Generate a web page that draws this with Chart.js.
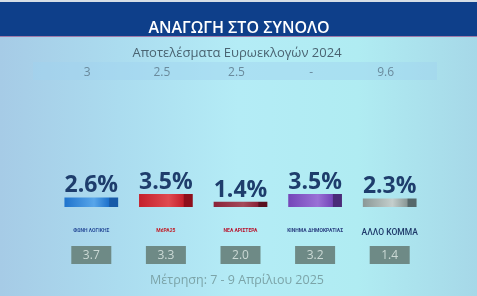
<!DOCTYPE html>
<html>
<head>
<meta charset="utf-8">
<script src="https://cdn.jsdelivr.net/npm/chart.js@4/dist/chart.umd.min.js"></script>
<style>
  html, body { margin: 0; padding: 0; background: #b2e6f2; }
  #wrap { width: 477px; height: 296px; }
</style>
</head>
<body>
<div id="wrap"><canvas id="poll"></canvas></div>
<script>
// Δεδομένα δημοσκόπησης
const parties = ["ΦΩΝΗ ΛΟΓΙΚΗΣ", "ΜέΡΑ25", "ΝΕΑ ΑΡΙΣΤΕΡΑ", "ΚΙΝΗΜΑ ΔΗΜΟΚΡΑΤΙΑΣ", "ΑΛΛΟ ΚΟΜΜΑ"];
const current = [2.6, 3.5, 1.4, 3.5, 2.3];
const previous = ["3.7", "3.3", "2.0", "3.2", "1.4"];
const euro2024 = ["3", "2.5", "2.5", "-", "9.6"];
const titleText = "ΑΝΑΓΩΓΗ ΣΤΟ ΣΥΝΟΛΟ";
const subtitleText = "Αποτελέσματα Ευρωεκλογών 2024";
const footerText = "Μέτρηση: 7 - 9 Απρίλιου 2025";

const barColors = [
  ["#58a6ea", "#1f73cc", "#165aa8"],
  ["#e04a50", "#c4202c", "#8e0f1c"],
  ["#a44a5a", "#8a2238", "#5a1020"],
  ["#9a70d6", "#7446b8", "#4a2a78"],
  ["#c4cecc", "#8a9896", "#56686a"],
];
const logoColors = ["#2a4f9a", "#c0202a", "#b8142e", "#2a3f80", "#1f3a6a"];

function barFill(ctx) {
  const chart = ctx.chart;
  const i = ctx.dataIndex;
  const c = barColors[i];
  if (!chart.chartArea || !chart.scales.x) return c[1];
  const x = chart.scales.x.getPixelForValue(i);
  const half = 27;
  const g = chart.ctx.createLinearGradient(x - half, 0, x + half, 0);
  g.addColorStop(0, c[1]);
  g.addColorStop(0.55, c[0]);
  g.addColorStop(0.82, c[1]);
  g.addColorStop(0.84, c[2]);
  g.addColorStop(1, c[2]);
  return g;
}

const backdrop = {
  id: "backdrop",
  beforeDraw(chart) {
    const { ctx, width, height } = chart;
    ctx.save();
    const bg = ctx.createLinearGradient(0, 0, width, 0);
    bg.addColorStop(0, "#a6cbe6");
    bg.addColorStop(0.25, "#abdcef");
    bg.addColorStop(0.5, "#b4ecf6");
    bg.addColorStop(0.75, "#b0ecf2");
    bg.addColorStop(1, "#a6d8e8");
    ctx.fillStyle = bg;
    ctx.fillRect(0, 0, width, height);

    ctx.fillStyle = "#d6dee6";
    ctx.fillRect(0, 0, width, 2);
    ctx.fillStyle = "#0e3f8a";
    ctx.fillRect(0, 2, width, 34);
    ctx.fillStyle = "#a07aa8";
    ctx.fillRect(0, 36, width, 1);

    ctx.fillStyle = "#ffffff";
    ctx.font = "600 16px 'Open Sans'";
    ctx.textAlign = "center";
    ctx.textBaseline = "alphabetic";
    ctx.fillText(titleText, 239, 33);

    ctx.fillStyle = "#4a6472";
    ctx.font = "13px 'Open Sans'";
    ctx.fillText(subtitleText, 237, 57);

    ctx.fillStyle = "rgba(160, 210, 240, 0.45)";
    ctx.fillRect(33, 62, 404, 18);

    const xs = chart.scales.x;
    ctx.fillStyle = "#6a8a9c";
    ctx.font = "12px 'Open Sans'";
    euro2024.forEach((v, i) => {
      ctx.fillText(v, xs.getPixelForValue(i) - 4, 76);
    });
    ctx.restore();
  },
  afterDraw(chart) {
    const { ctx } = chart;
    const xs = chart.scales.x;
    ctx.save();
    ctx.textAlign = "center";
    ctx.textBaseline = "middle";
    previous.forEach((v, i) => {
      const x = xs.getPixelForValue(i);
      ctx.fillStyle = "#6e8a86";
      ctx.fillRect(x - 20, 246, 40, 18);
      ctx.fillStyle = "#cbd9d5";
      ctx.font = "12px 'Open Sans'";
      ctx.fillText(v, x, 255.5);
    });
    ctx.fillStyle = "#7ca4a8";
    ctx.font = "12.5px 'Open Sans'";
    ctx.fillText(footerText, 237, 280);
    ctx.restore();
  },
};

const valueLabels = {
  id: "valueLabels",
  afterDatasetsDraw(chart) {
    const { ctx } = chart;
    const meta = chart.getDatasetMeta(0);
    ctx.save();
    ctx.fillStyle = "#1e3d6c";
    ctx.font = "bold 23px 'Open Sans'";
    ctx.textAlign = "center";
    ctx.textBaseline = "alphabetic";
    meta.data.forEach((bar, i) => {
      ctx.fillText(current[i].toFixed(1) + "%", bar.x, bar.y - 5);
    });
    ctx.restore();
  },
};

new Chart(document.getElementById("poll"), {
  type: "bar",
  data: {
    labels: parties,
    datasets: [
      {
        data: current,
        backgroundColor: barFill,
        borderWidth: 0,
        barPercentage: 0.72,
        categoryPercentage: 1,
      },
    ],
  },
  options: {
    responsive: true,
    maintainAspectRatio: false,
    animation: false,
    layout: { padding: { left: 54, right: 50, top: 96, bottom: 59 } },
    plugins: { legend: { display: false }, tooltip: { enabled: false } },
    scales: {
      x: {
        grid: { display: false, drawTicks: false },
        border: { display: false },
        afterFit(scale) { scale.height = 30; },
        ticks: {
          padding: 21,
          color: (c) => logoColors[c.index],
          font: (c) => (c.index === 4
            ? { family: "Roboto", size: 8.5, weight: "500" }
            : { family: "Roboto", size: 5, weight: "bold" }),
        },
      },
      y: {
        display: false,
        min: 0,
        max: 30,
      },
    },
  },
  plugins: [backdrop, valueLabels],
});
</script>
</body>
</html>
